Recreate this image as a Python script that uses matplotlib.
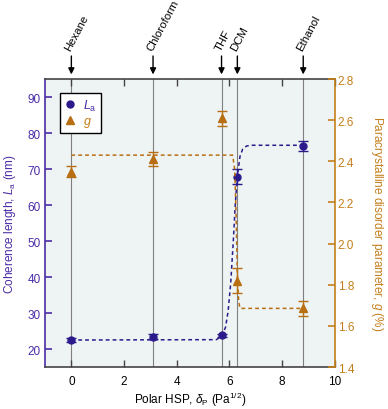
import numpy as np
import matplotlib
matplotlib.use("Agg")
import matplotlib.pyplot as plt
from matplotlib.lines import Line2D

plt.rcParams['font.family'] = ['Liberation Sans', 'DejaVu Sans']
plt.rcParams['font.size'] = 8.5
plt.rcParams['mathtext.fontset'] = 'custom'
plt.rcParams['mathtext.rm'] = 'Liberation Sans'
plt.rcParams['mathtext.it'] = 'Liberation Sans:italic'

# %% data
solvents = ['Hexane', 'Chloroform', 'THF', 'DCM', 'Ethanol']
polar_hsp = [0.0, 3.1, 5.7, 6.3, 8.8]
La = [22.5, 23.4, 23.8, 67.9, 76.5]
La_err = [0.5, 0.7, 0.5, 2.1, 1.4]
g = [2.35, 2.41, 2.61, 1.82, 1.685]
g_err = [0.028, 0.034, 0.036, 0.062, 0.036]

# dashed guide curves
La_fit_x = [0, 5.5, 5.7, 5.85, 5.95, 6.05, 6.15, 6.22, 6.3, 6.4, 6.5, 6.65, 6.85, 8.8]
La_fit_y = [22.5, 22.6, 23.5, 26.0, 30.5, 38.5, 50.5, 60.0, 68.0, 73.5, 75.5, 76.4, 76.6, 76.6]
g_fit_x = [0, 6.12, 6.2, 6.25, 6.3, 6.35, 6.4, 8.8]
g_fit_y = [2.43, 2.43, 2.36, 2.15, 1.85, 1.72, 1.685, 1.685]

purple = '#2b1a8c'
purple_txt = '#4a2ca6'
orange = '#b86e12'
orange_txt = '#c47f1c'

# %% figure
fig = plt.figure(figsize=(3.88, 4.10), dpi=100)
ax = fig.add_axes([0.116, 0.1024, 0.747, 0.7024])
ax.set_facecolor('#eef3f3')
ax2 = ax.twinx()
ax2.patch.set_visible(False)

# solvent guide lines
for x in polar_hsp:
    ax.axvline(x, color='#7f7f7f', lw=0.8, zorder=1)

# La (left)
ax.plot(La_fit_x, La_fit_y, ls=(0, (2.5, 2)), color=purple, lw=1.1, zorder=2)
ax.errorbar(polar_hsp, La, yerr=La_err, fmt='o', color=purple, ms=5,
            capsize=3.5, elinewidth=1, capthick=1, zorder=4)

# g (right)
ax2.plot(g_fit_x, g_fit_y, ls=(0, (2.5, 2)), color=orange, lw=1.1, zorder=2)
ax2.errorbar(polar_hsp, g, yerr=g_err, fmt='^', color=orange, ms=5.5,
             capsize=3.5, elinewidth=1, capthick=1, zorder=4)

ax.set_xlim(-1, 10)
ax.set_ylim(15, 95)
ax2.set_ylim(1.4, 2.8)

ax.set_xticks([0, 2, 4, 6, 8, 10])
ax.set_yticks(np.arange(20, 91, 10))
ax2.set_yticks(np.arange(1.4, 2.81, 0.2))
ax2.set_yticklabels(['%.1f' % v for v in np.arange(1.4, 2.81, 0.2)])

ax.tick_params(axis='x', direction='in', top=True, length=5, width=1,
               color='#444444', pad=6)
ax.tick_params(axis='y', direction='in', length=5, width=1.2,
               color=purple_txt, labelcolor=purple_txt, pad=3)
ax2.tick_params(axis='y', direction='in', length=5, width=1.2,
                color=orange_txt, labelcolor=orange_txt, pad=2)

for s in ['top', 'bottom']:
    ax.spines[s].set_color('#444444')
    ax.spines[s].set_linewidth(1.2)
ax.spines['left'].set_color(purple_txt)
ax.spines['left'].set_linewidth(1.2)
ax.spines['right'].set_visible(False)
ax2.spines['right'].set_color(orange_txt)
ax2.spines['right'].set_linewidth(1.2)
ax2.spines['left'].set_visible(False)
ax2.spines['top'].set_visible(False)
ax2.spines['bottom'].set_visible(False)

ax.set_xlabel(r'Polar HSP, $\delta_\mathrm{P}$ (Pa$^{1/2}$)', labelpad=2)
ax.set_ylabel(r'Coherence length, $L_\mathrm{a}$ (nm)', color=purple_txt, labelpad=7)
ax2.set_ylabel(r'Paracrystalline disorder parameter, $g$ (%)', color=orange_txt,
               rotation=270, labelpad=22)

# solvent annotations above the plot
for name, x in zip(solvents, polar_hsp):
    ax.annotate('', xy=(x, 1.016), xytext=(x, 1.08),
                xycoords=('data', 'axes fraction'),
                textcoords=('data', 'axes fraction'),
                arrowprops=dict(arrowstyle='-|>', color='black', lw=1,
                                mutation_scale=9, shrinkA=0, shrinkB=0))
    ax.annotate(name, xy=(x, 1.0), xycoords=('data', 'axes fraction'),
                xytext=(-8, 27), textcoords='offset pixels',
                rotation=62, ha='left', va='bottom', fontsize=8.2)

# legend
handles = [Line2D([], [], marker='o', ls='none', color=purple, ms=5),
           Line2D([], [], marker='^', ls='none', color=orange, ms=5.5)]
leg = ax.legend(handles, [r'$L_\mathrm{a}$', r'$g$'], loc='upper left',
                bbox_to_anchor=(0.052, 0.951), borderaxespad=0,
                fancybox=False, framealpha=1,
                edgecolor='black', handlelength=0.9, handletextpad=0.6,
                borderpad=0.35, labelspacing=0.2, fontsize=9)
leg.get_frame().set_linewidth(1)
leg.get_texts()[0].set_color(purple_txt)
leg.get_texts()[1].set_color(orange_txt)

fig.savefig('out.png', dpi=100)
